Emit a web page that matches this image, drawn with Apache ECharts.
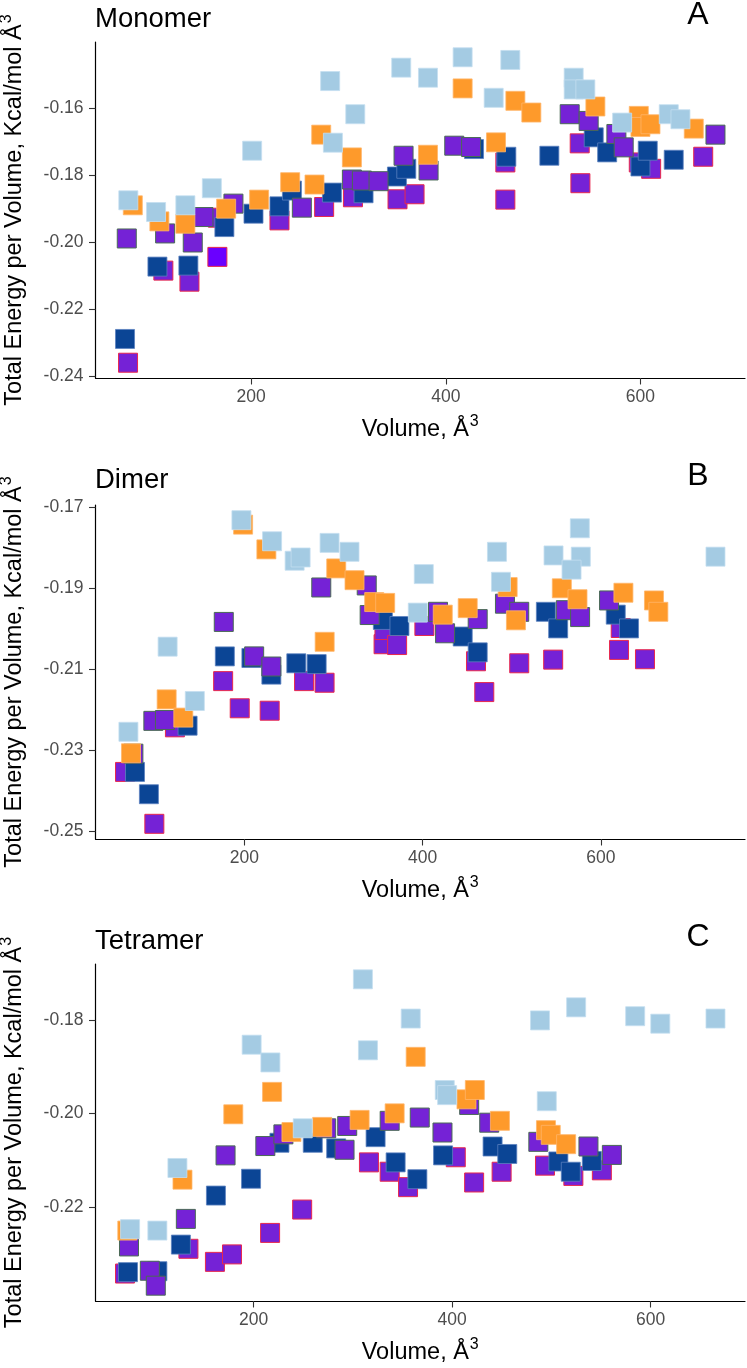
<!DOCTYPE html>
<html><head><meta charset="utf-8">
<script src="https://cdn.jsdelivr.net/npm/echarts@6/dist/echarts.min.js"></script>
<style>html,body{margin:0;padding:0;background:#fff}#c{width:747px;height:1368px}</style>
</head><body><div id="c"></div>
<script>
// ---------- data (Volume, Total Energy per Volume) ----------
const panelTitles = ['Monomer', 'Dimer', 'Tetramer'];
const panelTags = ['A', 'B', 'C'];
const xTickValues = [200, 400, 600];
const yTicksA = [-0.24, -0.22, -0.20, -0.18, -0.16];
const yTicksB = [-0.25, -0.23, -0.21, -0.19, -0.17];
const yTicksC = [-0.22, -0.20, -0.18];

const monoLight = [[73.8,-0.1875],[102.3,-0.1910],[132.4,-0.1890],[159.6,-0.1839],[201,-0.1727],[281.2,-0.1519],[307,-0.1618],[284,-0.1703],[354.2,-0.1479],[381.7,-0.1509],[417.3,-0.1448],[466.3,-0.1456],[449.2,-0.1569],[531.4,-0.1509],[531.4,-0.1544],[543.4,-0.1544],[581.2,-0.1643],[629.1,-0.1618],[641.1,-0.1633]];
const monoOrange = [[78.4,-0.1890],[105.7,-0.1938],[132.4,-0.1945],[174.3,-0.1900],[208.2,-0.1873],[240.1,-0.1821],[265.1,-0.1828],[272,-0.1679],[303.5,-0.1747],[381.7,-0.1739],[417.3,-0.1541],[451.6,-0.1702],[471.5,-0.1578],[487.9,-0.1613],[553.7,-0.1595],[598.3,-0.1623],[600,-0.1656],[610.3,-0.1648],[654.8,-0.1661]];
const monoNavy = [[70.4,-0.2289],[103.7,-0.2073],[135.5,-0.2070],[172.5,-0.1955],[202.4,-0.1915],[229.1,-0.1893],[241.9,-0.1846],[283,-0.1852],[315.5,-0.1854],[349.8,-0.1804],[359.4,-0.1781],[429,-0.1722],[462.2,-0.1745],[506.4,-0.1742],[552,-0.1687],[565.8,-0.1732],[600,-0.1774],[607.5,-0.1727],[634.2,-0.1754]];
const monoPurple = [[72.2,-0.1989],[111.6,-0.1974],[140,-0.2001],[151,-0.1925],[181.8,-0.1885],[252.1,-0.1897],[303.5,-0.1813],[313.8,-0.1816],[330.9,-0.1818],[356.6,-0.1742],[382.3,-0.1786],[408.7,-0.1712],[426,-0.1716],[527.3,-0.1618],[546.8,-0.1638],[575.3,-0.1677],[582.8,-0.1717],[677.1,-0.1679]];
const monoPurpleRed = [[73.5,-0.2360],[109.8,-0.2085],[136.6,-0.2118],[165.8,-0.1927],[229.1,-0.1935],[275,-0.1895],[304.6,-0.1866],[350.4,-0.1872],[367.9,-0.1857],[461.2,-0.1762],[461.2,-0.1873],[537.6,-0.1705],[538.3,-0.1824],[598.3,-0.1762],[611,-0.1781],[664.5,-0.1745]];
const monoViolet = [[165.3,-0.2044]];

const dimerLight = [[69.8,-0.2254],[113.8,-0.2044],[144.3,-0.2178],[196.6,-0.1732],[231,-0.1784],[256.3,-0.1832],[263,-0.1824],[295.5,-0.1788],[317.9,-0.1810],[401.2,-0.1865],[394.5,-0.1960],[483.3,-0.1810],[487.8,-0.1884],[576.3,-0.1752],[546.8,-0.1819],[577.4,-0.1822],[567,-0.1854],[728.5,-0.1822]];
const dimerOrange = [[72.7,-0.2307],[112.7,-0.2174],[131.4,-0.2219],[198.5,-0.1743],[224.6,-0.1804],[290,-0.2032],[303,-0.1851],[323.5,-0.1880],[345.6,-0.1934],[357.9,-0.1936],[422.5,-0.1965],[450.5,-0.1949],[495.3,-0.1897],[504.6,-0.1979],[556.1,-0.1900],[573.7,-0.1927],[625.2,-0.1911],[659.5,-0.1930],[664.4,-0.1958]];
const dimerNavy = [[77.2,-0.2353],[92.8,-0.2408],[136.2,-0.2239],[178,-0.2068],[207.8,-0.2072],[230.2,-0.2113],[258.2,-0.2085],[281,-0.2087],[355.3,-0.1978],[373.9,-0.1993],[444.9,-0.2019],[461.7,-0.2058],[538.2,-0.1958],[552,-0.1999],[616.6,-0.1965],[631.5,-0.1999]];
const dimerPurple = [[75.4,-0.2308],[97.8,-0.2227],[110.8,-0.2225],[176.8,-0.1983],[210.9,-0.2068],[230.2,-0.2093],[286.2,-0.1898],[337.2,-0.1893],[340.5,-0.1966],[417.2,-0.1958],[425.1,-0.2011],[461.7,-0.1976],[492.3,-0.1938],[508.3,-0.1958],[560.6,-0.1954],[576.6,-0.1971],[609.1,-0.1930]];
const dimerPurpleRed = [[66,-0.2353],[98.9,-0.2481],[122,-0.2243],[176.1,-0.2129],[194.7,-0.2196],[228.3,-0.2202],[266.9,-0.2129],[289.9,-0.2133],[356.1,-0.2038],[357.1,-0.2003],[371.3,-0.2040],[401.9,-0.1993],[459.8,-0.2080],[469.1,-0.2156],[508.3,-0.2085],[546.4,-0.2076],[622.2,-0.1998],[620.3,-0.2052],[649.4,-0.2075]];

const tetraLight = [[75.5,-0.2248],[103,-0.2251],[123.2,-0.2117],[198,-0.1853],[216.9,-0.1891],[249.5,-0.2032],[310.1,-0.1713],[315.2,-0.1865],[358.3,-0.1797],[392.6,-0.1950],[395,-0.1961],[495.4,-0.1974],[488.6,-0.1801],[525,-0.1773],[584.5,-0.1792],[609.8,-0.1808],[665.4,-0.1797]];
const tetraOrange = [[72.7,-0.2251],[128.3,-0.2142],[179.5,-0.2002],[218.6,-0.1954],[238.1,-0.2040],[269.1,-0.2029],[306.8,-0.2014],[342.1,-0.2000],[363.3,-0.1879],[414.5,-0.1970],[422.9,-0.1950],[448.2,-0.2016],[494.6,-0.2036],[499.4,-0.2046],[514.9,-0.2066]];
const tetraNavy = [[73.4,-0.2340],[103,-0.2338],[126.7,-0.2281],[162,-0.2176],[197.4,-0.2140],[226,-0.2063],[259.6,-0.2063],[283.2,-0.2075],[322.9,-0.2051],[343.1,-0.2105],[365,-0.2141],[390.9,-0.2090],[440.8,-0.2071],[455.6,-0.2087],[507.1,-0.2103],[519.6,-0.2125],[540.8,-0.2102]];
const tetraPurple = [[74.4,-0.2285],[95.4,-0.2337],[101.4,-0.2369],[131.7,-0.2226],[171.7,-0.2090],[211.8,-0.2070],[230,-0.2045],[273.1,-0.2032],[291.6,-0.2078],[294.3,-0.2027],[337.1,-0.2016],[367.4,-0.2009],[390.3,-0.2041],[417.2,-0.1982],[437.4,-0.2020],[486.9,-0.2061],[537.4,-0.2071],[561,-0.2089]];
const tetraPurpleRed = [[70.4,-0.2343],[134.3,-0.2290],[161,-0.2318],[178.2,-0.2302],[216.6,-0.2256],[248.9,-0.2206],[316.2,-0.2105],[337.1,-0.2125],[355.6,-0.2158],[403.7,-0.2094],[422.2,-0.2148],[449.9,-0.2125],[493.6,-0.2112],[522.2,-0.2134],[550.9,-0.2122]];

// ---------- build ----------
const FONT = 'Arial, "Liberation Sans", sans-serif';
const panels = [
  {grid: {top: 42, height: 336}, titleY: 19, tagY: 15, yTicks: yTicksA, sets: {purpleRed: monoPurpleRed, violet: monoViolet, navy: monoNavy, purple: monoPurple, orange: monoOrange, light: monoLight}},
  {grid: {top: 505, height: 334}, titleY: 480, tagY: 476, yTicks: yTicksB, sets: {purpleRed: dimerPurpleRed, navy: dimerNavy, purple: dimerPurple, orange: dimerOrange, light: dimerLight}},
  {grid: {top: 964, height: 337}, titleY: 941, tagY: 937, yTicks: yTicksC, sets: {purpleRed: tetraPurpleRed, navy: tetraNavy, purple: tetraPurple, orange: tetraOrange, light: tetraLight}}
];
const styles = {
  purpleRed: {color: '#7522d6', borderColor: '#e8284e', borderWidth: 1},
  violet:    {color: '#6a00ff', borderColor: '#e8284e', borderWidth: 1},
  navy:      {color: '#0b4595', borderColor: '#5a80bf', borderWidth: 0.8},
  purple:    {color: '#7522d6', borderColor: '#4a6a55', borderWidth: 1},
  orange:    {color: '#fe9a2b', borderColor: '#ffb56a', borderWidth: 0.8},
  light:     {color: '#a4cbe3', borderColor: '#c4def0', borderWidth: 0.8}
};
function expand(arrs, idx) {
  let lo = Infinity, hi = -Infinity;
  arrs.forEach(a => a.forEach(p => { lo = Math.min(lo, p[idx]); hi = Math.max(hi, p[idx]); }));
  const pad = (hi - lo) * 0.05;
  return [lo - pad, hi + pad];
}
const supRich = {
  m: {fontSize: 23.5, fontFamily: FONT, lineHeight: 32, fill: '#000'},
  s: {fontSize: 16, fontFamily: FONT, lineHeight: 32, verticalAlign: 'top', padding: [0, 0, 12, 1], fill: '#000'}
};
const GL = 95.5, GW = 649.5;
const grids = [], xAxes = [], yAxes = [], series = [], graphics = [];
panels.forEach((p, i) => {
  const all = Object.values(p.sets);
  const xr = expand(all, 0), yr = expand(all, 1);
  grids.push({left: GL, top: p.grid.top, width: GW, height: p.grid.height, containLabel: false});
  xAxes.push({
    type: 'value', gridIndex: i, min: xr[0], max: xr[1],
    axisLine: {show: true, onZero: false, lineStyle: {color: '#000', width: 1.2}},
    axisTick: {show: true, length: 6.5, customValues: xTickValues, lineStyle: {color: '#333', width: 1.1}},
    axisLabel: {show: true, customValues: xTickValues, margin: 10.5, color: '#4d4d4d', fontSize: 17.5, fontFamily: FONT, formatter: v => String(Math.round(v))},
    splitLine: {show: false}
  });
  yAxes.push({
    type: 'value', gridIndex: i, min: yr[0], max: yr[1],
    axisLine: {show: true, onZero: false, lineStyle: {color: '#000', width: 1.2}},
    axisTick: {show: true, length: 6.5, customValues: p.yTicks, lineStyle: {color: '#333', width: 1.1}},
    axisLabel: {show: true, customValues: p.yTicks, margin: 12, color: '#4d4d4d', fontSize: 17.5, fontFamily: FONT, formatter: v => v.toFixed(2)},
    splitLine: {show: false}
  });
  Object.keys(p.sets).forEach(k => {
    series.push({
      type: 'scatter', xAxisIndex: i, yAxisIndex: i, symbol: 'rect', symbolSize: 19,
      data: p.sets[k], itemStyle: Object.assign({opacity: 1}, styles[k]),
      emphasis: {disabled: true}, silent: true
    });
  });
  const top = p.grid.top, bottom = p.grid.top + p.grid.height;
  graphics.push({type: 'text', x: 95, y: p.titleY, style: {text: panelTitles[i], font: '27.5px ' + FONT, fill: '#000', textVerticalAlign: 'middle', textAlign: 'left'}});
  graphics.push({type: 'text', x: 698, y: p.tagY, style: {text: panelTags[i], font: '32px ' + FONT, fill: '#000', textVerticalAlign: 'middle', textAlign: 'center'}});
  graphics.push({type: 'text', x: GL + GW / 2, y: bottom + 52, style: {text: '{m|Volume, Å}{s|3}', rich: supRich, textVerticalAlign: 'middle', textAlign: 'center'}});
  graphics.push({type: 'text', x: 15, y: top + p.grid.height / 2, rotation: Math.PI / 2, style: {text: '{m|Total Energy per Volume, Kcal/mol Å}{s|3}', rich: supRich, textVerticalAlign: 'middle', textAlign: 'center'}});
});

const chart = echarts.init(document.getElementById('c'), null, {renderer: 'canvas'});
chart.setOption({
  animation: false, backgroundColor: '#fff',
  grid: grids, xAxis: xAxes, yAxis: yAxes, series: series, graphic: graphics
});
</script></body></html>
